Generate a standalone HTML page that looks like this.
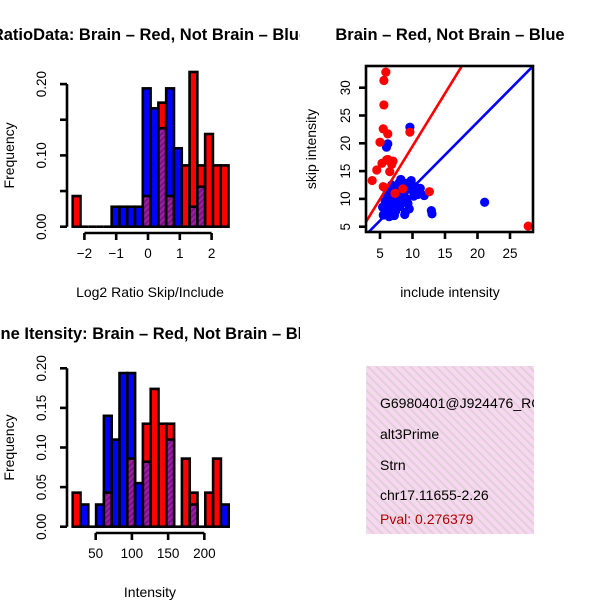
<!DOCTYPE html>
<html><head><meta charset="utf-8"><style>
html,body{margin:0;padding:0;background:#fff;}
svg{display:block;font-family:"Liberation Sans",sans-serif;}
</style></head><body>
<svg id="chart" width="600" height="600" viewBox="0 0 600 600">
<defs>
<pattern id="purp" width="4" height="4" patternUnits="userSpaceOnUse" patternTransform="rotate(45)">
<rect width="4" height="4" fill="#a020a0"/><rect width="2" height="4" fill="#7a1090"/></pattern>
<pattern id="pink" width="6" height="6" patternUnits="userSpaceOnUse" patternTransform="rotate(-45)">
<rect width="6" height="6" fill="#f8d8f0"/><rect width="2" height="6" fill="#e0d0d8"/></pattern>
<clipPath id="leftclip"><rect x="0" y="0" width="300" height="600"/></clipPath>
<clipPath id="boxclip"><rect x="366" y="66" width="167" height="166"/></clipPath>
<clipPath id="infoclip"><rect x="366" y="366" width="168" height="168"/></clipPath>
</defs>
<g id="p1" clip-path="url(#leftclip)"></g>
<g id="p3" clip-path="url(#leftclip)"></g>
<g id="p2"></g>
<g>
<rect x="366" y="366" width="168" height="168" fill="url(#pink)"/>
<g clip-path="url(#infoclip)" font-size="14">
<text x="380" y="408">G6980401@J924476_RC</text>
<text x="380" y="439">alt3Prime</text>
<text x="380" y="470">Strn</text>
<text x="380" y="500">chr17.11655-2.26</text>
<text x="380" y="524" fill="#b00000">Pval: 0.276379</text>
</g></g>
</svg>
<script>
// ---- Histogram 1 data (Log2 ratio) ----
const h1Start = -2.368, h1Width = 0.245;
const h1Red  = [0.043,0,0,0,0,0,0,0,0,0.043,0,0.174,0.043,0,0.086,0.217,0.086,0.13,0.086,0.086];
const h1Blue = [0,0,0,0,0,0.028,0.028,0.028,0.028,0.194,0.166,0.138,0.194,0.11,0,0.028,0.056,0,0,0];
const h1XTicks = [-2,-1,0,1,2];
const h1YTicks = [0,0.05,0.10,0.15,0.20];
const h1YLabels = ["0.00","","0.10","","0.20"];
// ---- Histogram 2 data (Intensity) ----
const h2Start = 18.25, h2Width = 10.77;
const h2Red  = [0.043,0,0,0,0.043,0,0,0.086,0,0.13,0.174,0.13,0.13,0,0.086,0.043,0,0.043,0.086,0];
const h2Blue = [0,0.028,0,0.028,0.14,0.11,0.194,0.194,0.055,0.082,0,0,0.11,0,0,0.028,0,0,0,0.028];
const h2XTicks = [50,100,150,200];
const h2YTicks = [0,0.05,0.10,0.15,0.20];
const h2YLabels = ["0.00","0.05","0.10","0.15","0.20"];
// ---- Scatter data ----
const redX = [5.9,5.6,5.6,5.5,6.2,9.6,5.0,5.3,6.2,6.8,4.5,3.8,5.5,12.6,27.8,6.5,7.0,6.0,8.5,7.3];
const redY = [32.8,31.3,26.9,22.6,21.7,22.0,20.2,16.4,17.1,16.2,15.2,13.3,12.2,11.3,5.1,14.9,16.8,17.0,11.8,11.0];
const blueX = [9.6,6.2,6.0,8.2,9.0,7.6,8.7,10.2,6.1,7.4,5.4,6.6,8.0,9.3,10.8,11.2,12.9,13.0,21.1,5.5,7.2,8.8,6.8,9.8,11.8,7.9,5.8,6.4,
  6.9,7.7,8.5,9.1,6.3,7.0,8.2,9.5,6.6,7.4,8.9,9.9,6.1,7.1,5.9,8.0,9.4,10.4,7.5,6.8];
const blueY = [22.9,19.9,19.3,13.5,12.8,12.3,11.0,10.5,10.8,9.6,8.5,8.0,8.6,9.2,10.8,11.9,7.9,7.3,9.4,7.1,7.0,7.2,12.5,13.3,10.6,10.1,9.6,6.8,
  11.8,11.2,12.4,10.0,9.2,8.6,9.0,8.2,7.5,7.8,7.6,11.6,11.4,10.4,7.8,13.0,12.0,12.2,9.4,10.2];
const scXTicks = [5,10,15,20,25];
const scYTicks = [5,10,15,20,25,30];
const redLine = {a:0.47, b:1.9};
const blueLine = {a:0.2, b:1.18};

const NS="http://www.w3.org/2000/svg";
function mk(tag, attrs, parent){const e=document.createElementNS(NS,tag);for(const k in attrs)e.setAttribute(k,attrs[k]);parent.appendChild(e);return e;}

function hist(g, start, w, red, blue, xs, ys, yl, xmap, ymap, axY, axX, title, xlab, titleY, xlabY){
  for(let i=0;i<red.length;i++){
    const x0=xmap(start+i*w), x1=xmap(start+(i+1)*w);
    const r=red[i], b=blue[i];
    const mx=Math.max(r,b), mn=Math.min(r,b);
    if(mx>0){
      const bar=mk('rect',{x:x0,y:ymap(mx),width:x1-x0,height:ymap(0)-ymap(mx),fill:r>=b?'#ff0000':'#0000ff',stroke:'#000','stroke-width':2.6},g);
      
      
    }
    if(mn>0){
      const ov=mk('rect',{x:x0,y:ymap(mn),width:x1-x0,height:ymap(0)-ymap(mn),fill:'url(#purp)',stroke:'#000','stroke-width':2.6},g);
      
      
    }
    if(mx===0){
      const z=mk('line',{x1:x0,x2:x1,y1:ymap(0),y2:ymap(0),stroke:'#000','stroke-width':2.6},g);
      
      
    }
  }
  const ya=mk('line',{x1:axX,x2:axX,y1:ymap(ys[0]),y2:ymap(ys[ys.length-1]),stroke:'#000','stroke-width':2.6},g);
  
  
  ys.forEach((v,i)=>{
    mk('line',{x1:axX-7,x2:axX,y1:ymap(v),y2:ymap(v),stroke:'#000','stroke-width':2.6},g);
    if(yl[i]){const t=mk('text',{x:0,y:0,'font-size':13.5,'text-anchor':'middle',transform:`translate(${axX-21},${ymap(v)}) rotate(-90)`},g);t.textContent=yl[i];
      
      }
  });
  const xa=mk('line',{x1:xmap(xs[0]),x2:xmap(xs[xs.length-1]),y1:axY,y2:axY,stroke:'#000','stroke-width':2.6},g);
  
  
  xs.forEach(v=>{
    mk('line',{x1:xmap(v),x2:xmap(v),y1:axY,y2:axY+7,stroke:'#000','stroke-width':2.6},g);
    const t=mk('text',{x:xmap(v),y:axY+25,'font-size':13.5,'text-anchor':'middle'},g);t.textContent=(v<0?'\u2212'+(-v):v);
    
    
  });
  const tt=mk('text',{x:150,y:titleY,'font-size':16.5,'font-weight':'bold','text-anchor':'middle'},g);tt.textContent=title;
  
  
  const xl=mk('text',{x:150,y:xlabY,'font-size':14,'text-anchor':'middle'},g);xl.textContent=xlab;
  
  
  const fy=(ymap(0)+ymap(ys[ys.length-1]))/2;
  const yt=mk('text',{x:0,y:0,'font-size':14,'text-anchor':'middle',transform:`translate(14,${fy}) rotate(-90)`},g);yt.textContent='Frequency';
  
  
}

const x1m=v=>148+31.8*v, y1m=v=>226.7-713*v;
hist(document.getElementById('p1'),h1Start,h1Width,h1Red,h1Blue,h1XTicks,h1YTicks,h1YLabels,x1m,y1m,233,67,'RatioData: Brain \u2013 Red, Not Brain \u2013 Blue','Log2 Ratio Skip/Include',40,297);
const x2m=v=>95.7+(v-50)*0.7243, y2m=v=>526.7-792*v;
hist(document.getElementById('p3'),h2Start,h2Width,h2Red,h2Blue,h2XTicks,h2YTicks,h2YLabels,x2m,y2m,533,67,'Gene Itensity: Brain \u2013 Red, Not Brain \u2013 Blue','Intensity',339,597);

// scatter
const g2=document.getElementById('p2');
const sx=v=>380+(v-5)*6.5, sy=v=>226.7-(v-5)*5.56;
const inner=mk('g',{'clip-path':'url(#boxclip)'},g2);
blueX.forEach((x,i)=>{const c=mk('circle',{cx:sx(x),cy:sy(blueY[i]),r:4.6,fill:'#0000ff'},inner);
  
  });
redX.forEach((x,i)=>{const c=mk('circle',{cx:sx(x),cy:sy(redY[i]),r:4.6,fill:'#ff0000'},inner);
  
  });
[[redLine,'#ff0000','red-fit-line'],[blueLine,'#0000ff','blue-fit-line']].forEach(([L,col,nm])=>{
  const l=mk('line',{x1:sx(0),y1:sy(L.a),x2:sx(40),y2:sy(L.a+L.b*40),stroke:col,'stroke-width':2.6},inner);
  
  
});
const box=mk('rect',{x:366,y:66,width:167,height:166,fill:'none',stroke:'#000','stroke-width':2.6},g2);


scXTicks.forEach(v=>{mk('line',{x1:sx(v),x2:sx(v),y1:232,y2:239,stroke:'#000','stroke-width':2.6},g2);
  const t=mk('text',{x:sx(v),y:258,'font-size':13.5,'text-anchor':'middle'},g2);t.textContent=v;
  
  });
scYTicks.forEach(v=>{mk('line',{x1:359,x2:366,y1:sy(v),y2:sy(v),stroke:'#000','stroke-width':2.6},g2);
  const t=mk('text',{x:0,y:0,'font-size':13.5,'text-anchor':'middle',transform:`translate(350,${sy(v)}) rotate(-90)`},g2);t.textContent=v;
  
  });
const st=mk('text',{x:450,y:40,'font-size':16.5,'font-weight':'bold','text-anchor':'middle'},g2);st.textContent='Brain \u2013 Red, Not Brain \u2013 Blue';


const sxl=mk('text',{x:450,y:297,'font-size':14,'text-anchor':'middle'},g2);sxl.textContent='include intensity';


const syl=mk('text',{x:0,y:0,'font-size':14,'text-anchor':'middle',transform:'translate(316,149) rotate(-90)'},g2);syl.textContent='skip intensity';


</script>
</body></html>
